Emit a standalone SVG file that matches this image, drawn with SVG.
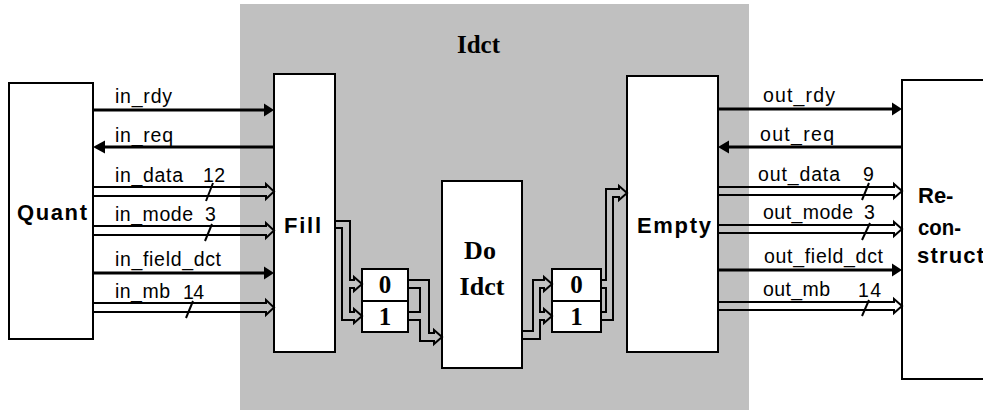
<svg xmlns="http://www.w3.org/2000/svg" width="983" height="410" viewBox="0 0 983 410">
<style>
.box{fill:#fff;stroke:#000;stroke-width:2}
.bus{fill:none;stroke:#000;stroke-width:2;stroke-linejoin:miter}
.sig{stroke:#000;stroke-width:3.2;fill:none}
.head{fill:#000;stroke:none}
.tick{stroke:#000;stroke-width:2}
.lbl{font-family:"Liberation Sans",Arial,sans-serif;font-size:19.5px;fill:#000}
.blk{font-family:"Liberation Sans",Arial,sans-serif;font-size:22px;font-weight:bold;fill:#000}
.ser{font-family:"Liberation Serif","Times New Roman",serif;font-weight:bold;fill:#000}
</style>
<rect x="0" y="0" width="983" height="410" fill="#fff"/>
<g id="idct">
<rect x="240" y="4" width="509" height="406" fill="#c0c0c0"/>
<text class="ser" x="478.5" y="53" font-size="25" text-anchor="middle">Idct</text>
</g>
<g id="quant">
<rect class="box" x="9" y="83" width="84" height="256"/>
<text class="blk" x="17" y="220" textLength="70" lengthAdjust="spacing">Quant</text>
</g>
<g id="fill">
<rect class="box" x="274" y="74" width="61" height="278"/>
<text class="blk" x="284" y="233" textLength="37" lengthAdjust="spacing">Fill</text>
</g>
<g id="do-idct">
<rect class="box" x="442" y="181" width="80" height="187"/>
<text class="ser" x="480" y="259" font-size="26" text-anchor="middle">Do</text>
<text class="ser" x="482" y="295" font-size="26" text-anchor="middle">Idct</text>
</g>
<g id="mux-in">
<rect class="box" x="362" y="269" width="46" height="63"/>
<line x1="362" y1="301" x2="408" y2="301" stroke="#000" stroke-width="2"/>
<text class="ser" x="385" y="293" font-size="25" text-anchor="middle">0</text>
<text class="ser" x="385" y="325" font-size="25" text-anchor="middle">1</text>
</g>
<g id="mux-out">
<rect class="box" x="552" y="269" width="49" height="63"/>
<line x1="552" y1="301" x2="601" y2="301" stroke="#000" stroke-width="2"/>
<text class="ser" x="576.5" y="293" font-size="25" text-anchor="middle">0</text>
<text class="ser" x="576.5" y="325" font-size="25" text-anchor="middle">1</text>
</g>
<g id="empty">
<rect class="box" x="627" y="76" width="91" height="276"/>
<text class="blk" x="637" y="233" textLength="74" lengthAdjust="spacing">Empty</text>
</g>
<g id="reconstruct">
<rect class="box" x="902" y="80" width="100" height="299"/>
<text class="blk" x="918" y="203">Re-</text>
<text class="blk" x="918" y="235" textLength="43" lengthAdjust="spacingAndGlyphs">con-</text>
<text class="blk" x="917" y="263" textLength="67" lengthAdjust="spacing">struct</text>
</g>
<g id="connectors">
<line class="sig" x1="93" y1="110" x2="266" y2="110"/>
<polygon class="head" points="264,103.5 274,110 264,116.5"/>
<line class="sig" x1="102" y1="147" x2="274" y2="147"/>
<polygon class="head" points="105,140.5 93,147 105,153.5"/>
<path class="bus" d="M93,187 H266 V184 L274,191.5 L266,199 V196 H93"/>
<line class="tick" x1="206" y1="201" x2="213" y2="183"/>
<path class="bus" d="M93,226 H266 V223 L274,230.5 L266,238 V235 H93"/>
<line class="tick" x1="205" y1="241" x2="212" y2="224"/>
<line class="sig" x1="93" y1="273" x2="266" y2="273"/>
<polygon class="head" points="264,266.5 274,273 264,279.5"/>
<path class="bus" d="M93,303 H266 V300 L274,307.5 L266,315 V312 H93"/>
<line class="tick" x1="186" y1="318" x2="193" y2="301"/>
<path class="bus" d="M335,221 H350 V280 H354 V277 L362,284 L354,291 V288 H350 V312 H354 V309 L362,316 L354,323 V320 H342 V228 H335"/>
<path class="bus" d="M408,280 H429 V333 H434 V330 L442,337 L434,344 V341 H420 V320 H408"/>
<path class="bus" d="M408,288 H420 V312 H408"/>
<path class="bus" d="M522,331 H533 V280 H544 V277 L552,284 L544,291 V288 H540 V312 H544 V309 L552,316 L544,323 V320 H540 V339 H522"/>
<path class="bus" d="M601,280 H606 V189 H619 V186 L627,193 L619,200 V197 H613 V320 H601"/>
<path class="bus" d="M601,288 H606 V312 H601"/>
<line class="sig" x1="718" y1="109" x2="894" y2="109"/>
<polygon class="head" points="892,102.5 902,109 892,115.5"/>
<line class="sig" x1="726" y1="147" x2="902" y2="147"/>
<polygon class="head" points="729,140.5 718,147 729,153.5"/>
<path class="bus" d="M718,187 H894 V184 L902,191 L894,198 V195 H718"/>
<line class="tick" x1="862" y1="200" x2="869" y2="183"/>
<path class="bus" d="M718,225 H894 V222 L902,229 L894,236 V233 H718"/>
<line class="tick" x1="862" y1="240" x2="870" y2="223"/>
<line class="sig" x1="718" y1="270" x2="894" y2="270"/>
<polygon class="head" points="892,263.5 902,270 892,276.5"/>
<path class="bus" d="M718,302 H894 V299 L902,306 L894,313 V310 H718"/>
<line class="tick" x1="862" y1="316" x2="869" y2="300"/>
<text class="lbl" x="115" y="102.5" textLength="57" lengthAdjust="spacing">in_rdy</text>
<text class="lbl" x="115" y="141.5" textLength="58" lengthAdjust="spacing">in_req</text>
<text class="lbl" x="115" y="181.5" textLength="68" lengthAdjust="spacing">in_data</text>
<text class="lbl" x="203" y="182" textLength="22" lengthAdjust="spacing">12</text>
<text class="lbl" x="115" y="220.5" textLength="78" lengthAdjust="spacing">in_mode</text>
<text class="lbl" x="205" y="221">3</text>
<text class="lbl" x="115" y="265.5" textLength="106" lengthAdjust="spacing">in_field_dct</text>
<text class="lbl" x="115" y="298" textLength="55" lengthAdjust="spacing">in_mb</text>
<text class="lbl" x="183" y="299" textLength="21" lengthAdjust="spacing">14</text>
<text class="lbl" x="763" y="101.5" textLength="72" lengthAdjust="spacing">out_rdy</text>
<text class="lbl" x="760" y="141" textLength="74" lengthAdjust="spacing">out_req</text>
<text class="lbl" x="758" y="180.5" textLength="82" lengthAdjust="spacing">out_data</text>
<text class="lbl" x="863" y="181">9</text>
<text class="lbl" x="763" y="219" textLength="90" lengthAdjust="spacing">out_mode</text>
<text class="lbl" x="864" y="219">3</text>
<text class="lbl" x="764" y="263" textLength="119" lengthAdjust="spacing">out_field_dct</text>
<text class="lbl" x="763" y="296" textLength="67" lengthAdjust="spacing">out_mb</text>
<text class="lbl" x="858" y="297" textLength="23" lengthAdjust="spacing">14</text>
</g>
</svg>
